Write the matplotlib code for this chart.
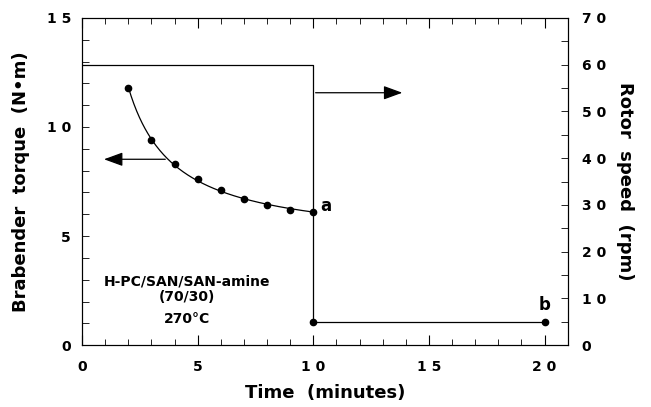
import numpy as np
import matplotlib.pyplot as plt
from matplotlib.ticker import MultipleLocator, FixedLocator

plt.rcParams['font.family'] = ['DejaVu Sans']
plt.rcParams['font.weight'] = 'bold'

# torque readings during mixing at 60 rpm (N.m)
time_pts = [2, 3, 4, 5, 6, 7, 8, 9, 10]
torque_pts = [11.8, 9.42, 8.32, 7.6, 7.1, 6.7, 6.41, 6.19, 6.1]

# torque after rotor speed was dropped
time_low = [10, 20]
torque_low = [1.07, 1.05]

# rotor speed program (rpm)
time_speed = [0, 10, 10, 20]
speed = [60, 60, 5, 5]

x_ticks = [0, 5, 10, 15, 20]
x_labels = ['0', '5', '1 0', '1 5', '2 0']
yl_ticks = [0, 5, 10, 15]
yl_labels = ['0', '5', '1 0', '1 5']
yr_ticks = [0, 10, 20, 30, 40, 50, 60, 70]
yr_labels = ['0', '1 0', '2 0', '3 0', '4 0', '5 0', '6 0', '7 0']

fig = plt.figure(figsize=(6.51, 4.07), dpi=100)
ax = fig.add_axes([0.126, 0.152, 0.746, 0.804])
ax2 = ax.twinx()

# smooth curve through torque points (fit y = a + b/t)
t = np.array(time_pts, dtype=float)
b, a = np.polyfit(1 / t, torque_pts, 1)
tt = np.linspace(t.min(), t.max(), 200)
ax.plot(tt, a + b / tt, color='black', lw=0.9)
ax.plot(time_pts, torque_pts, 'o', color='black', ms=4.5)
ax.plot(time_low, torque_low, 'o', color='black', ms=4.5)

ax2.plot(time_speed, speed, color='black', lw=0.9)

ax.set_xlim(0, 21)
ax.set_ylim(0, 15)
ax2.set_ylim(0, 70)

ax.xaxis.set_major_locator(FixedLocator(x_ticks))
ax.set_xticklabels(x_labels)
ax.xaxis.set_minor_locator(MultipleLocator(1))
ax.yaxis.set_major_locator(FixedLocator(yl_ticks))
ax.set_yticklabels(yl_labels)
ax.yaxis.set_minor_locator(MultipleLocator(1))
ax2.yaxis.set_major_locator(FixedLocator(yr_ticks))
ax2.set_yticklabels(yr_labels)
ax2.yaxis.set_minor_locator(MultipleLocator(5))

ax.tick_params(axis='x', which='both', direction='in', top=True, labelsize=10, pad=11)
ax.tick_params(axis='x', which='major', length=7, width=0.8)
ax.tick_params(axis='x', which='minor', length=4, width=0.6)
ax.tick_params(axis='y', which='both', direction='in', length=5, width=0.6, labelsize=10, pad=8)
ax2.tick_params(axis='y', which='both', direction='in', length=5, width=0.6, labelsize=10, pad=10)
for s in ax.spines.values():
    s.set_linewidth(0.8)
for s in ax2.spines.values():
    s.set_linewidth(0.8)

ax.set_xlabel('Time  (minutes)', fontsize=13, fontweight='bold', labelpad=7)
ax.set_ylabel('Brabender  torque  (N\u2022m)', fontsize=13, fontweight='bold', labelpad=12)
ax2.set_ylabel('Rotor  speed  (rpm)', fontsize=13, fontweight='bold', rotation=-90, labelpad=20)

# arrows pointing to the relevant axis
arrow = dict(arrowstyle='-|>,head_length=1.15,head_width=0.42', color='black',
             lw=0.9, mutation_scale=10, shrinkA=0, shrinkB=0)
ax.annotate('', xy=(0.95, 8.52), xytext=(3.6, 8.52), arrowprops=arrow)
ax.annotate('', xy=(13.85, 11.57), xytext=(10.1, 11.57), arrowprops=arrow)

ax.text(10.3, 6.4, 'a', fontsize=12, fontweight='bold', ha='left', va='center')
ax.text(20.0, 1.85, 'b', fontsize=12, fontweight='bold', ha='center', va='center')

ax.text(4.52, 2.9, 'H-PC/SAN/SAN-amine', fontsize=10, fontweight='bold', ha='center', va='center')
ax.text(4.52, 2.2, '(70/30)', fontsize=10, fontweight='bold', ha='center', va='center')
ax.text(4.55, 1.2, '270\u00b0C', fontsize=10, fontweight='bold', ha='center', va='center')

fig.savefig('out.png', dpi=100)
